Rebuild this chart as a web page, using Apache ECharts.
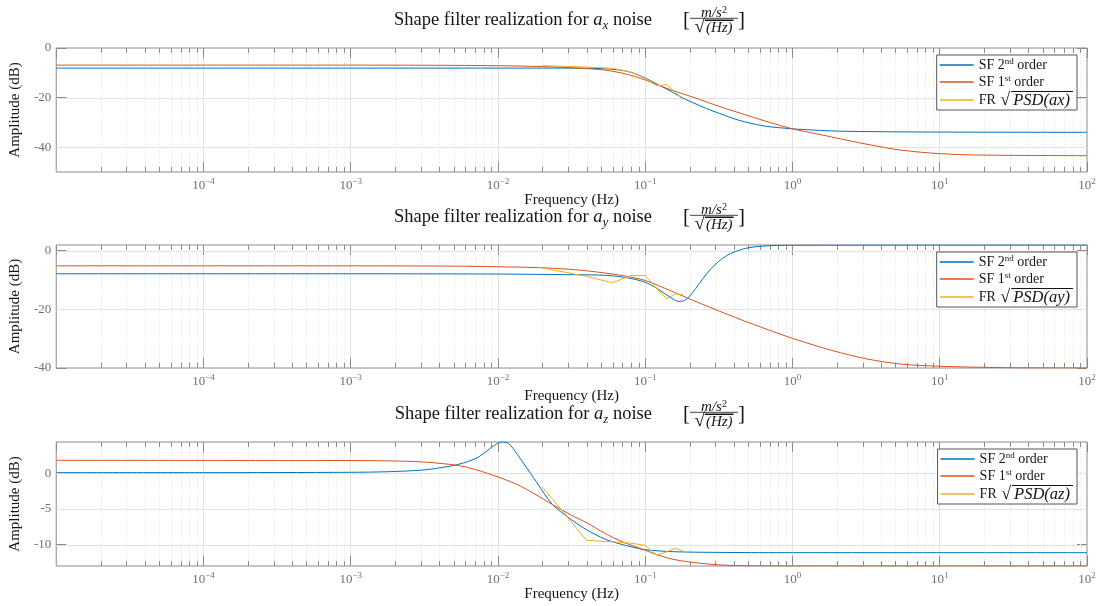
<!DOCTYPE html>
<html>
<head>
<meta charset="utf-8">
<title>Shape filter realization</title>
<script src="https://cdn.jsdelivr.net/npm/echarts@6.0.0/dist/echarts.min.js"></script>
<style>
  html, body { margin: 0; padding: 0; background: #ffffff; }
  #chart { width: 1100px; height: 606px; }
</style>
</head>
<body>
<div id="chart"></div>
<script>
// ---------- frequency axis (Hz, logarithmic) ----------
const freqRange = [1e-5, 100];
const minorMultipliers = [2, 3, 4, 5, 6, 7, 8, 9];
const minorDecades = [1e-5, 1e-4, 1e-3, 1e-2, 1e-1, 1, 10];

// frequencies of the measured response sqrt(PSD)
const frFreq = [0.02, 0.04, 0.06, 0.08, 0.10, 0.12, 0.14, 0.16, 0.18];

// ---------- a_x channel ----------
const axYRange = [-50, 0];
const axYTicks = [-40, -20, 0];
const axSf2Freq = [1e-5, 1e-3, 0.01, 0.03, 0.05, 0.065, 0.08, 0.1, 0.12, 0.143, 0.17, 0.21, 0.26, 0.32, 0.4, 0.5, 0.65, 0.8, 1, 1.4, 2, 3.2, 10, 100];
const axSf2Amp  = [-8.1, -8.1, -8.1, -8.1, -8.3, -8.8, -9.8, -12.1, -14.6, -16.8, -19.4, -22.0, -24.4, -26.4, -28.5, -30.1, -31.5, -32.1, -32.6, -33.1, -33.5, -33.7, -33.9, -34.0];
const axSf1Freq = [1e-5, 1e-3, 0.005, 0.01, 0.02, 0.035, 0.053, 0.074, 0.1, 0.143, 0.21, 0.32, 0.5, 0.7, 1, 1.4, 1.85, 3.2, 5.5, 10, 20, 100];
const axSf1Amp  = [-6.9, -6.9, -7.0, -7.15, -7.5, -8.1, -8.9, -10.5, -12.9, -16.5, -19.8, -23.6, -27.3, -30.0, -32.6, -34.4, -35.9, -38.8, -41.2, -42.6, -43.2, -43.4];
const axFrAmp   = [-7.1, -7.7, -8.2, -9.7, -12.3, -15.3, -14.7, -17.9, -20.8];

// ---------- a_y channel ----------
const ayYRange = [-40, 1.9];
const ayYTicks = [-40, -20, 0];
const aySf2Freq = [1e-5, 1e-3, 0.01, 0.03, 0.053, 0.07, 0.085, 0.1, 0.121, 0.15, 0.168, 0.18, 0.198, 0.221, 0.246, 0.275, 0.324, 0.381, 0.474, 0.62, 1, 100];
const aySf2Amp  = [-7.9, -7.9, -8.0, -8.2, -8.4, -9.0, -9.8, -10.8, -13.0, -16.1, -17.3, -17.2, -15.8, -12.8, -9.6, -6.6, -3.2, -1.0, 0.7, 1.5, 1.85, 1.9];
const aySf1Freq = [1e-5, 1e-3, 0.005, 0.01, 0.0235, 0.04, 0.07, 0.1, 0.135, 0.21, 0.36, 0.62, 1, 1.85, 3.2, 5.5, 10, 28, 100];
const aySf1Amp  = [-5.2, -5.2, -5.3, -5.5, -6.0, -6.9, -8.5, -10.2, -12.8, -16.9, -21.7, -26.2, -29.9, -34.0, -36.9, -38.7, -39.4, -39.9, -40.0];
const ayFrAmp   = [-5.9, -8.8, -11.0, -8.5, -8.5, -13.0, -16.4, -14.7, -15.0];

// ---------- a_z channel ----------
const azYRange = [-13, 4.4];
const azYTicks = [-10, -5, 0];
const azSf2Freq = [1e-5, 1e-4, 1e-3, 0.0018, 0.0031, 0.0041, 0.0054, 0.0071, 0.0083, 0.0093, 0.0106, 0.0118, 0.0136, 0.016, 0.0188, 0.0235, 0.031, 0.0406, 0.053, 0.07, 0.1, 0.159, 0.36, 1, 100];
const azSf2Amp  = [0.1, 0.1, 0.15, 0.23, 0.47, 0.8, 1.27, 2.1, 3.05, 3.85, 4.4, 4.2, 2.6, 0.5, -1.6, -4.4, -6.4, -8.0, -9.2, -10.0, -10.7, -11.0, -11.1, -11.13, -11.13];
const azSf1Freq = [1e-5, 1e-3, 0.0018, 0.0031, 0.0054, 0.0071, 0.01, 0.0136, 0.0178, 0.0235, 0.031, 0.0406, 0.053, 0.07, 0.1, 0.143, 0.21, 0.36, 1, 100];
const azSf1Amp  = [1.83, 1.8, 1.75, 1.6, 1.1, 0.5, -0.5, -1.6, -2.9, -4.4, -5.8, -7.0, -8.4, -9.6, -10.8, -11.9, -12.5, -12.9, -13.0, -13.0];
const azFrAmp   = [-1.9, -9.4, -9.6, -9.8, -10.1, -11.5, -11.0, -10.5, -10.9];

// ---------- styling ----------
const SERIF = '"Liberation Serif", "DejaVu Serif", serif';
const C_SF2 = '#0072BD';
const C_SF1 = '#D95319';
const C_FR = '#EDB120';
const AXIS_GRAY = '#8c8c8c';
const LABEL_GRAY = '#707070';
const TEXT_DARK = '#151515';
const GRID_MAJOR = '#e2e2e2';
const GRID_MINOR = '#e4e4e4';
const MINOR_TICK = 5;
const MAJOR_TICK = 10;

const minorFreqs = [];
minorDecades.forEach(d => minorMultipliers.forEach(m => minorFreqs.push(+(d * m).toPrecision(3))));

const panels = [
  { sub: 'x', top: 48, height: 124, yRange: axYRange, yTicks: axYTicks,
    sf2: [axSf2Freq, axSf2Amp], sf1: [axSf1Freq, axSf1Amp], fr: axFrAmp },
  { sub: 'y', top: 245, height: 123, yRange: ayYRange, yTicks: ayYTicks,
    sf2: [aySf2Freq, aySf2Amp], sf1: [aySf1Freq, aySf1Amp], fr: ayFrAmp },
  { sub: 'z', top: 442, height: 124, yRange: azYRange, yTicks: azYTicks,
    sf2: [azSf2Freq, azSf2Amp], sf1: [azSf1Freq, azSf1Amp], fr: azFrAmp }
];

const pairs = (xs, ys) => xs.map((x, k) => [x, ys[k]]);

function logLabel(v) {
  const e = Math.round(Math.log10(v));
  return '{b|10}{e|' + (e < 0 ? '\u2212' + (-e) : String(e)) + '}';
}

// dotted minor grid lines plus inward minor ticks on the bottom and top edges
function renderMinor(params, api) {
  const cs = params.coordSys;
  const pt = api.coord([api.value(0), api.value(1)]);
  const x = Math.round(pt[0]) + 0.5;
  const top = cs.y, bot = cs.y + cs.height;
  return {
    type: 'group',
    children: [
      { type: 'line', shape: { x1: x, y1: top, x2: x, y2: bot },
        style: { stroke: GRID_MINOR, lineWidth: 1, lineDash: [1, 2] } },
      { type: 'line', shape: { x1: x, y1: bot, x2: x, y2: bot - MINOR_TICK },
        style: { stroke: AXIS_GRAY, lineWidth: 1 } },
      { type: 'line', shape: { x1: x, y1: top, x2: x, y2: top + MINOR_TICK },
        style: { stroke: AXIS_GRAY, lineWidth: 1 } }
    ]
  };
}

// solid horizontal grid lines at the amplitude ticks
function renderHGrid(params, api) {
  const cs = params.coordSys;
  const y = Math.round(api.coord([api.value(0), api.value(1)])[1]) + 0.5;
  return { type: 'line', shape: { x1: cs.x, y1: y, x2: cs.x + cs.width, y2: y },
           style: { stroke: GRID_MAJOR, lineWidth: 1 } };
}

const overline = new echarts.graphic.LinearGradient(0, 0, 0, 1, [
  { offset: 0, color: TEXT_DARK }, { offset: 0.07, color: TEXT_DARK },
  { offset: 0.07, color: 'rgba(0,0,0,0)' }, { offset: 1, color: 'rgba(0,0,0,0)' }
]);

const TITLE_RICH = {
  n: { font: '18.5px ' + SERIF, fill: TEXT_DARK, lineHeight: 24 },
  i: { font: 'italic 18.5px ' + SERIF, fill: TEXT_DARK, lineHeight: 24 },
  sub: { font: 'italic 13px ' + SERIF, fill: TEXT_DARK, verticalAlign: 'bottom' },
  br: { font: '21px ' + SERIF, fill: TEXT_DARK }
};
const FRAC_RICH = {
  i: { font: 'italic 15px ' + SERIF, fill: TEXT_DARK, lineHeight: 16 },
  sup: { font: '10px ' + SERIF, fill: TEXT_DARK, verticalAlign: 'top' },
  r: { font: '19px ' + SERIF, fill: TEXT_DARK, lineHeight: 18 },
  o: { font: 'italic 15px ' + SERIF, fill: TEXT_DARK, backgroundColor: overline, padding: [1, 1, 0, 1] }
};

function titleElements(p) {
  const cy = p.top - 27.5;
  return [
    { type: 'text', x: 652, y: cy, silent: true,
      style: { text: '{n|Shape filter realization for }{i|a}{sub|' + p.sub + '}{n| noise}',
               rich: TITLE_RICH, align: 'right', verticalAlign: 'middle' } },
    { type: 'text', x: 683, y: cy, silent: true,
      style: { text: '{br|[}', rich: TITLE_RICH, align: 'left', verticalAlign: 'middle' } },
    { type: 'text', x: 714, y: cy - 7, silent: true,
      style: { text: '{i|m/s}{sup|2}', rich: FRAC_RICH, align: 'center', verticalAlign: 'middle' } },
    { type: 'line', silent: true, shape: { x1: 690, y1: cy - 2.2, x2: 738, y2: cy - 2.2 },
      style: { stroke: TEXT_DARK, lineWidth: 0.8 } },
    { type: 'text', x: 714, y: cy + 7, silent: true,
      style: { text: '{r|\u221A}{o|(Hz)}', rich: FRAC_RICH, align: 'center', verticalAlign: 'middle' } },
    { type: 'text', x: 738, y: cy, silent: true,
      style: { text: '{br|]}', rich: TITLE_RICH, align: 'left', verticalAlign: 'middle' } }
  ];
}

const legendNames = {
  SF2: '{n|SF 2}{sup|nd}{n| order}',
  SF1: '{n|SF 1}{sup|st}{n| order}',
  FRx: '{n|FR }{r|\u221A}{o|PSD(ax)}',
  FRy: '{n|FR }{r|\u221A}{o|PSD(ay)}',
  FRz: '{n|FR }{r|\u221A}{o|PSD(az)}'
};

const option = {
  animation: false,
  backgroundColor: '#ffffff',
  grid: [], xAxis: [], yAxis: [], series: [], legend: [], graphic: []
};

panels.forEach((p, i) => {
  option.grid.push({ left: 53, right: 13, top: p.top, height: p.height, show: true,
                     borderColor: AXIS_GRAY, borderWidth: 1, backgroundColor: '#ffffff' });

  // bottom frequency axis (labels) and top frequency axis (ticks only)
  option.xAxis.push({
    type: 'log', logBase: 10, gridIndex: i, min: freqRange[0], max: freqRange[1], position: 'bottom',
    splitNumber: 7,
    axisLine: { show: false, onZero: false },
    axisTick: { show: true, inside: true, length: MAJOR_TICK, lineStyle: { color: AXIS_GRAY } },
    axisLabel: { show: true, showMinLabel: false, showMaxLabel: true, margin: 5, formatter: logLabel,
      rich: {
        b: { fontFamily: SERIF, fontSize: 13, color: LABEL_GRAY, lineHeight: 17 },
        e: { fontFamily: SERIF, fontSize: 9, color: LABEL_GRAY, verticalAlign: 'top' }
      } },
    splitLine: { show: true, showMinLine: false, showMaxLine: false, lineStyle: { color: GRID_MAJOR, width: 1 } },
    name: 'Frequency (Hz)', nameLocation: 'middle', nameGap: 18,
    nameTextStyle: { fontFamily: SERIF, fontSize: 15, color: TEXT_DARK }
  });
  option.xAxis.push({
    type: 'log', logBase: 10, gridIndex: i, min: freqRange[0], max: freqRange[1], position: 'top',
    splitNumber: 7,
    axisLine: { show: false, onZero: false },
    axisTick: { show: true, inside: true, length: MAJOR_TICK, lineStyle: { color: AXIS_GRAY } },
    axisLabel: { show: false }, splitLine: { show: false }
  });

  // left amplitude axis (labels) and right amplitude axis (ticks only)
  option.yAxis.push({
    type: 'value', gridIndex: i, min: p.yRange[0], max: p.yRange[1], position: 'left',
    axisLine: { show: false, onZero: false },
    axisTick: { show: true, inside: true, length: MAJOR_TICK, customValues: p.yTicks,
                lineStyle: { color: AXIS_GRAY } },
    axisLabel: { show: true, customValues: p.yTicks, margin: 5, color: LABEL_GRAY,
                 fontFamily: SERIF, fontSize: 13 },
    splitLine: { show: false },
    name: 'Amplitude (dB)', nameLocation: 'middle', nameGap: 22, nameRotate: 90,
    nameTextStyle: { fontFamily: SERIF, fontSize: 15, color: TEXT_DARK }
  });
  option.yAxis.push({
    type: 'value', gridIndex: i, min: p.yRange[0], max: p.yRange[1], position: 'right',
    axisLine: { show: false, onZero: false },
    axisTick: { show: true, inside: true, length: MAJOR_TICK, customValues: p.yTicks,
                lineStyle: { color: AXIS_GRAY } },
    axisLabel: { show: false }, splitLine: { show: false }
  });

  const xi = 2 * i, yi = 2 * i;

  option.series.push({
    type: 'custom', xAxisIndex: xi, yAxisIndex: yi, silent: true, z: 1,
    renderItem: renderMinor, data: minorFreqs.map(f => [f, p.yRange[0]])
  });
  option.series.push({
    type: 'custom', xAxisIndex: xi, yAxisIndex: yi, silent: true, z: 1,
    renderItem: renderHGrid,
    data: p.yTicks.filter(v => v > p.yRange[0] && v < p.yRange[1]).map(v => [1, v])
  });

  const lineCommon = { type: 'line', xAxisIndex: xi, yAxisIndex: yi, symbol: 'none', showSymbol: false, silent: true };
  option.series.push(Object.assign({}, lineCommon, {
    name: 'SF2', data: pairs(p.sf2[0], p.sf2[1]), smooth: 0.3, z: 3,
    lineStyle: { color: C_SF2, width: 1 }, itemStyle: { color: C_SF2 }
  }));
  option.series.push(Object.assign({}, lineCommon, {
    name: 'SF1', data: pairs(p.sf1[0], p.sf1[1]), smooth: 0.3, z: 4,
    lineStyle: { color: C_SF1, width: 1 }, itemStyle: { color: C_SF1 }
  }));
  option.series.push(Object.assign({}, lineCommon, {
    name: 'FR' + p.sub, data: pairs(frFreq, p.fr), z: 5,
    lineStyle: { color: C_FR, width: 1 }, itemStyle: { color: C_FR }
  }));

  option.legend.push({
    orient: 'vertical', right: 23, top: p.top + 7, selectedMode: false,
    data: ['SF2', 'SF1', 'FR' + p.sub],
    icon: 'rect', itemWidth: 34, itemHeight: 1.3, itemGap: 2,
    itemStyle: { borderWidth: 0 },
    padding: [2, 4, 1, 3], borderColor: '#555555', borderWidth: 1, backgroundColor: '#ffffff',
    formatter: name => legendNames[name],
    textStyle: {
      fontFamily: SERIF, fontSize: 14, color: TEXT_DARK,
      rich: {
        n: { fontFamily: SERIF, fontSize: 14, color: TEXT_DARK, lineHeight: 16 },
        sup: { fontFamily: SERIF, fontSize: 9, color: TEXT_DARK, verticalAlign: 'top' },
        r: { fontFamily: SERIF, fontSize: 18, color: TEXT_DARK, lineHeight: 19, padding: [0, 1, 0, 1] },
        o: { fontFamily: SERIF, fontStyle: 'italic', fontSize: 16.5, color: TEXT_DARK,
             backgroundColor: overline, padding: [1, 3, 0, 2] }
      }
    }
  });

  titleElements(p).forEach(el => option.graphic.push(el));
});

const chart = echarts.init(document.getElementById('chart'), null, { renderer: 'canvas' });
chart.setOption(option);
</script>
</body>
</html>
